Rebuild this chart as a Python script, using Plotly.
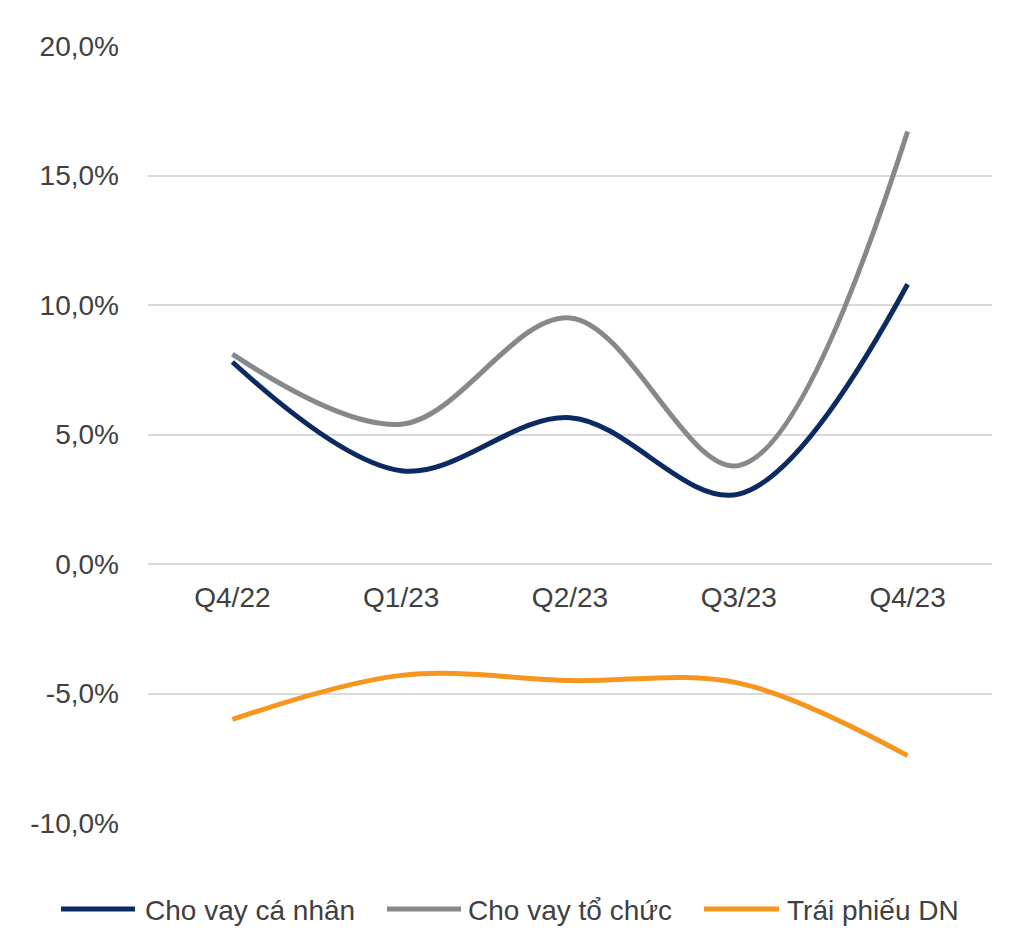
import plotly.graph_objects as go

categories = ["Q4/22", "Q1/23", "Q2/23", "Q3/23", "Q4/23"]
ca_nhan = [7.8, 3.6, 5.65, 2.7, 10.8]
to_chuc = [8.1, 5.4, 9.5, 3.8, 16.7]
trai_phieu = [-6.0, -4.3, -4.5, -4.6, -7.4]
names = ["Cho vay cá nhân", "Cho vay tổ chức", "Trái phiếu DN"]
colors = ["#0c2a62", "#87888b", "#f7961e"]
y_ticks = [-10, -5, 0, 5, 10, 15, 20]
y_tick_text = ["-10,0%", "-5,0%", "0,0%", "5,0%", "10,0%", "15,0%", "20,0%"]

W, H = 1024, 948
L, R, T, B = 148, 32, 46, 125
PW, PH = W - L - R, H - T - B
FONT = "Liberation Sans, Arial, sans-serif"
TXT = "#404040"


def px_x(x):
    return (x - L) / PW


def px_y(y):
    return (H - B - y) / PH


fig = go.Figure()
for vals, name, col in zip([ca_nhan, to_chuc, trai_phieu], names, colors):
    fig.add_trace(go.Scatter(
        x=categories, y=vals, name=name, mode="lines",
        line=dict(color=col, width=5, shape="spline", smoothing=1.0),
        showlegend=False,
    ))

# custom legend (long line symbols as in the reference)
leg_lines = [(61, 135), (387, 461), (704, 779)]
leg_text_x = [143, 466, 785]
leg_y = 909
for (x0, x1), tx, name, col in zip(leg_lines, leg_text_x, names, colors):
    fig.add_shape(type="line", xref="paper", yref="paper",
                  x0=px_x(x0), x1=px_x(x1), y0=px_y(leg_y), y1=px_y(leg_y),
                  line=dict(color=col, width=5))
    fig.add_annotation(xref="paper", yref="paper", x=px_x(tx), y=px_y(leg_y + 2),
                       text=name, showarrow=False, xanchor="left", yanchor="middle",
                       font=dict(family=FONT, size=28, color=TXT))

fig.update_layout(
    width=W, height=H,
    margin=dict(l=L, r=R, t=T, b=B),
    paper_bgcolor="white", plot_bgcolor="white",
    font=dict(family=FONT, size=28, color=TXT),
    xaxis=dict(
        type="category", range=[-0.5, 4.5], anchor="free", position=1 / 3,
        showgrid=False, showline=False, zeroline=False, ticks="",
        ticklabelstandoff=14, tickfont=dict(family=FONT, size=28, color=TXT),
    ),
    yaxis=dict(
        range=[-10, 20], tickvals=y_ticks, ticktext=y_tick_text,
        showgrid=True, gridcolor="#d9d9d9", gridwidth=2,
        zeroline=False, showline=False, ticks="",
        ticklabelstandoff=28, tickfont=dict(family=FONT, size=28, color=TXT),
    ),
)

fig.write_html("out.html")
